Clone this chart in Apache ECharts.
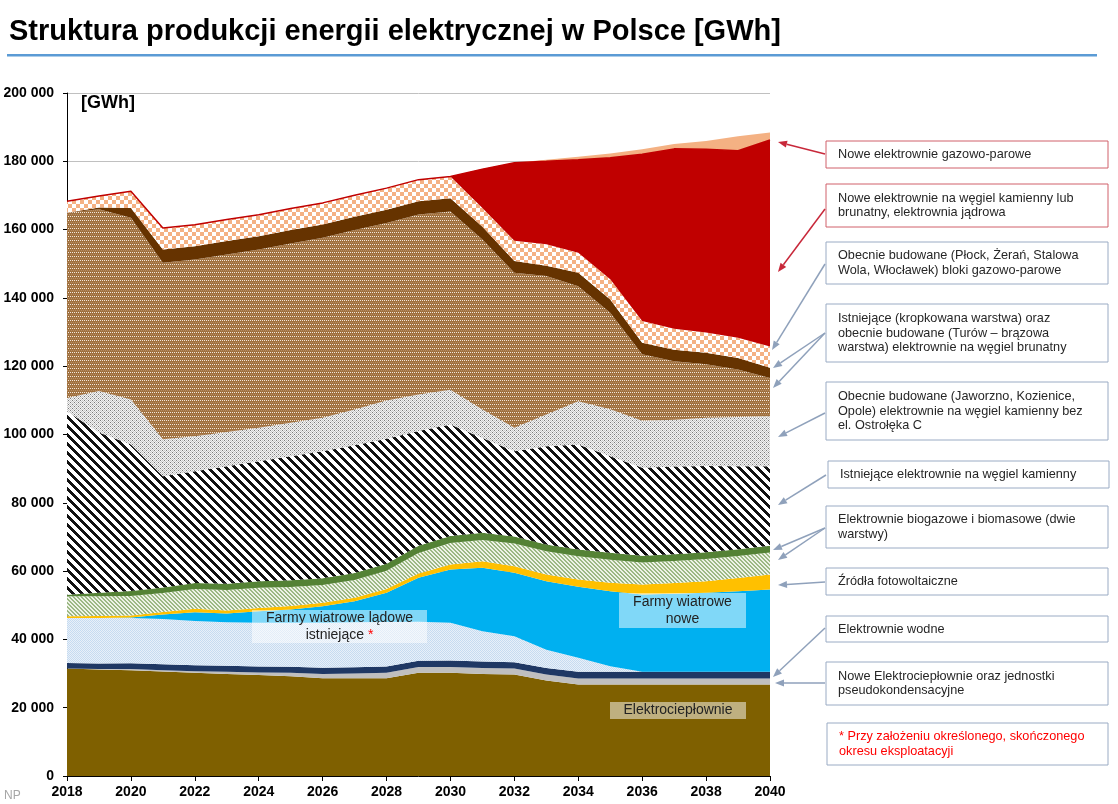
<!DOCTYPE html>
<html>
<head>
<meta charset="utf-8">
<script src="https://cdn.jsdelivr.net/npm/echarts@6/dist/echarts.min.js"></script>
<style>
  html, body { margin: 0; padding: 0; background: #fff; }
  #chart { width: 1118px; height: 804px; }
</style>
</head>
<body>
<div id="chart"></div>
<script>
// lata na osi X
const years = ['2018', '2019', '2020', '2021', '2022', '2023', '2024', '2025', '2026', '2027', '2028',
  '2029', '2030', '2031', '2032', '2033', '2034', '2035', '2036', '2037', '2038', '2039', '2040'];

// warstwy od dołu [GWh]
const elektrocieplownie = [31500, 31200, 31000, 30600, 30200, 29900, 29600, 29200, 28600, 28600, 28600, 30200, 30200, 29900, 29700, 28000, 26800, 26800, 26800, 26800, 26800, 26800, 26800];
const noweEC = [0, 100, 300, 400, 500, 600, 700, 1000, 1300, 1400, 1600, 1700, 1750, 1750, 1750, 1750, 1750, 1750, 1750, 1750, 1750, 1750, 1750];
const wodne = [1600, 1650, 1700, 1700, 1750, 1750, 1800, 1800, 1800, 1850, 1850, 1850, 1850, 1850, 1850, 1900, 1950, 1950, 1950, 1950, 1950, 1950, 1950];
const wiatrIstniejace = [13200, 13350, 13300, 13300, 12950, 12750, 12800, 12900, 13200, 13150, 13050, 11450, 11100, 8900, 7600, 5350, 4100, 1650, 0, 0, 0, 0, 0];
const wiatrNowe = [0, 0, 100, 1300, 2560, 2580, 3360, 3850, 4820, 6200, 8540, 12830, 15560, 18560, 18600, 20040, 20790, 21960, 22640, 22840, 23140, 23610, 24110];
const fotowoltaika = [500, 550, 600, 700, 1000, 900, 950, 1000, 1000, 1000, 1150, 1300, 1450, 1950, 1950, 1950, 2150, 2450, 2950, 3200, 3400, 3900, 4400];
const biomasa1 = [5800, 5800, 5700, 5600, 5800, 6000, 5900, 5600, 5200, 5200, 5300, 6000, 6300, 6200, 6600, 6800, 6800, 6800, 6400, 6400, 6500, 6400, 6400];
const biomasa2 = [500, 1000, 1450, 1600, 1750, 1850, 1950, 2000, 2000, 2050, 2050, 2100, 2100, 2100, 2050, 2000, 2000, 2000, 2000, 2000, 2000, 2000, 2000];
const kamiennyIstn = [53700, 46900, 42900, 32600, 32700, 34400, 35100, 36300, 37200, 37400, 36600, 33600, 32600, 27800, 25000, 28800, 30700, 28300, 25800, 25700, 25200, 24300, 23300];
const kamiennyBud = [3900, 12200, 13200, 10800, 10300, 10000, 9800, 9800, 9800, 10500, 11200, 10700, 10200, 8300, 6900, 9300, 12700, 13700, 13700, 13700, 14200, 14400, 14600];
const brunatnyIstn = [54200, 53200, 53200, 51700, 51700, 52000, 52200, 52500, 52700, 52500, 52000, 52700, 52200, 49800, 45400, 40500, 33700, 28300, 19500, 17100, 15600, 13900, 11200];
const turow = [0, 500, 2900, 3900, 3900, 3900, 3900, 3900, 3900, 3900, 3900, 3900, 3900, 3700, 3400, 3000, 3900, 3900, 3400, 3400, 3400, 3400, 3000];
const gazBudowane = [3400, 3400, 4900, 6300, 6300, 6300, 6300, 6300, 6300, 6300, 6300, 6300, 6350, 5500, 5900, 6300, 5900, 5900, 6350, 6100, 5900, 5900, 6250];
const noweWeglowe = [0, 0, 0, 0, 0, 0, 0, 0, 0, 0, 0, 0, 0, 11400, 22900, 24300, 27200, 35600, 48800, 52700, 53700, 54800, 60500];
const noweGazowe = [0, 0, 0, 0, 0, 0, 0, 0, 0, 0, 0, 0, 0, 0, 0, 500, 900, 1200, 1500, 1400, 2400, 4200, 2200];

const FONT = '"Liberation Sans", Arial, sans-serif';

// wzorki (kafelki) do wypełnień
function pattern(w, h, bg, fn) {
  const c = document.createElement('canvas');
  c.width = w; c.height = h;
  const ctx = c.getContext('2d');
  ctx.fillStyle = bg;
  ctx.fillRect(0, 0, w, h);
  for (let y = 0; y < h; y++) {
    for (let x = 0; x < w; x++) {
      const col = fn(x, y);
      if (col) { ctx.fillStyle = col; ctx.fillRect(x, y, 1, 1); }
    }
  }
  return { image: c, repeat: 'repeat' };
}

const pStripes = pattern(9, 9, '#ffffff', (x, y) => (((x - y) % 9) + 9) % 9 < 4 ? '#111111' : null);
const pGreenHatch = pattern(4, 4, '#eef3e7', (x, y) => (((x - y) % 4) + 4) % 4 < 2 ? '#9cb884' : null);
const pWhiteDots = pattern(4, 4, '#f4f4f4', (x, y) => ((x + y) % 4 === 0 && x % 2 === 0) ? '#7a7a7a' : ((x + y) % 2 === 0 ? '#c8c8c8' : null));
const pBrownDots = pattern(4, 4, '#a0713f', (x, y) => (y === 0 && x % 2 === 0) ? '#f3e8dc' : (y === 2 && x % 2 === 1 ? '#b88e66' : null));
const pChecker = pattern(8, 8, '#ffffff', (x, y) => ((Math.floor(x / 4) + Math.floor(y / 4)) % 2 === 0) ? '#f4b183' : null);
const pBlueDots = pattern(4, 4, '#e8f0f9', (x, y) => ((x + y) % 2 === 0) ? '#c6dbf0' : null);

function area(name, data, fill, extra) {
  return Object.assign({
    name: name,
    type: 'line',
    stack: 'total',
    data: data,
    symbol: 'none',
    silent: true,
    lineStyle: { width: 0 },
    areaStyle: { color: fill, opacity: 1 },
    emphasis: { disabled: true }
  }, extra || {});
}

const series = [
  area('Elektrociepłownie', elektrocieplownie, '#7f6000'),
  area('Nowe Elektrociepłownie', noweEC, '#bfbfbf'),
  area('Elektrownie wodne', wodne, '#1f3864'),
  area('Farmy wiatrowe lądowe istniejące', wiatrIstniejace, pBlueDots),
  area('Farmy wiatrowe nowe', wiatrNowe, '#00b0f0'),
  area('Źródła fotowoltaiczne', fotowoltaika, '#ffc000'),
  area('Biomasa 1', biomasa1, pGreenHatch),
  area('Biomasa 2', biomasa2, '#548235'),
  area('Istniejące węgiel kamienny', kamiennyIstn, pStripes),
  area('Budowane węgiel kamienny', kamiennyBud, pWhiteDots),
  area('Istniejące węgiel brunatny', brunatnyIstn, pBrownDots),
  area('Turów', turow, '#663300'),
  area('Budowane gazowo-parowe', gazBudowane, pChecker),
  area('Nowe węglowe / jądrowa', noweWeglowe, '#c00000', { lineStyle: { width: 1.5, color: '#c00000' } }),
  area('Nowe gazowo-parowe', noweGazowe, '#f4b183')
];

// ramki z opisami po prawej i strzałki
function box(x, y, w, h, lines, border, color) {
  return [
    { type: 'rect', z: 100, shape: { x: x, y: y, width: w, height: h },
      style: { fill: '#fff', stroke: border, lineWidth: 1 } },
    { type: 'text', z: 101,
      style: { x: x + 12, y: y + h / 2, text: lines.join('\n'), font: '12.7px ' + FONT, fill: color,
        textVerticalAlign: 'middle', lineHeight: 14.5 } }
  ];
}
function arrow(x1, y1, x2, y2, color) {
  const a = Math.atan2(y2 - y1, x2 - x1), L = 9, hw = 3.5;
  const bx = x2 - L * Math.cos(a), by = y2 - L * Math.sin(a);
  const px = -Math.sin(a) * hw, py = Math.cos(a) * hw;
  return [
    { type: 'line', z: 100, shape: { x1: x1, y1: y1, x2: bx, y2: by }, style: { stroke: color, lineWidth: 1.5 } },
    { type: 'polygon', z: 100, shape: { points: [[x2, y2], [bx + px, by + py], [bx - px, by - py]] }, style: { fill: color } }
  ];
}
function label(x, y, w, h, text, rich) {
  return [
    { type: 'rect', z: 90, shape: { x: x, y: y, width: w, height: h }, style: { fill: 'rgba(255,255,255,0.5)' } },
    { type: 'text', z: 91,
      style: { x: x + w / 2, y: y + h / 2, text: text, font: '14px ' + FONT, fill: '#222',
        textAlign: 'center', textVerticalAlign: 'middle', lineHeight: 17, rich: rich } }
  ];
}

const RED = '#d0606a', REDA = '#c8283a', GREY = '#9aabc4', GREYA = '#8fa1bb', TXT = '#262626';

const graphic = [].concat(
  [{ type: 'text', z: 100, style: { x: 9, y: 32, text: 'Struktura produkcji energii elektrycznej w Polsce [GWh]',
      font: 'bold 29px ' + FONT, fill: '#000', textVerticalAlign: 'middle' } },
   { type: 'rect', z: 100, shape: { x: 7, y: 54, width: 1090, height: 2.5 }, style: { fill: '#5b9bd5' } },
   { type: 'text', z: 100, style: { x: 81, y: 103, text: '[GWh]', font: 'bold 18px ' + FONT, fill: '#000', textVerticalAlign: 'middle' } },
   { type: 'text', z: 100, style: { x: 4, y: 796, text: 'NP', font: '12px ' + FONT, fill: '#a6a6a6', textVerticalAlign: 'middle' } }],
  label(252, 610, 175, 33, '{t|Farmy wiatrowe lądowe}\n{t|istniejące }{r|*}', { t: { fill: '#222', font: '14px ' + FONT }, r: { fill: '#ff0000', font: '14px ' + FONT } }),
  label(619, 593, 127, 35, 'Farmy wiatrowe\nnowe'),
  label(610, 702, 136, 17, 'Elektrociepłownie'),
  box(826, 141, 282, 27, ['Nowe elektrownie gazowo-parowe'], RED, TXT),
  box(826, 184, 282, 43, ['Nowe elektrownie na węgiel kamienny lub', 'brunatny, elektrownia jądrowa'], RED, TXT),
  box(826, 242, 282, 42, ['Obecnie budowane (Płock, Żerań, Stalowa', 'Wola, Włocławek) bloki gazowo-parowe'], GREY, TXT),
  box(826, 304, 282, 58, ['Istniejące (kropkowana warstwa) oraz', 'obecnie budowane (Turów – brązowa', 'warstwa) elektrownie na węgiel brunatny'], GREY, TXT),
  box(826, 382, 282, 58, ['Obecnie budowane (Jaworzno, Kozienice,', 'Opole) elektrownie na węgiel kamienny bez', 'el. Ostrołęka C'], GREY, TXT),
  box(828, 461, 281, 27, ['Istniejące elektrownie na węgiel kamienny'], GREY, TXT),
  box(826, 506, 282, 42, ['Elektrownie biogazowe i biomasowe (dwie', 'warstwy)'], GREY, TXT),
  box(826, 568, 282, 27, ['Źródła fotowoltaiczne'], GREY, TXT),
  box(826, 616, 282, 26, ['Elektrownie wodne'], GREY, TXT),
  box(826, 662, 282, 43, ['Nowe Elektrociepłownie oraz jednostki', 'pseudokondensacyjne'], GREY, TXT),
  box(827, 723, 281, 42, ['* Przy założeniu określonego, skończonego', 'okresu eksploatacyji'], GREY, '#ff0000'),
  arrow(825, 154, 778, 142, REDA),
  arrow(825, 209, 778, 272, REDA),
  arrow(825, 264, 772, 350, GREYA),
  arrow(825, 333, 773, 368, GREYA),
  arrow(825, 333, 773, 388, GREYA),
  arrow(825, 413, 778, 437, GREYA),
  arrow(826, 475, 778, 505, GREYA),
  arrow(825, 528, 773, 550, GREYA),
  arrow(825, 528, 778, 560, GREYA),
  arrow(825, 582, 778, 585, GREYA),
  arrow(825, 628, 773, 677, GREYA),
  arrow(825, 683, 775, 683, GREYA)
);

const myChart = echarts.init(document.getElementById('chart'), null, { renderer: 'canvas' });
const option = {
  animation: false,
  backgroundColor: '#ffffff',
  grid: { left: 67, right: 348, top: 93, bottom: 28, containLabel: false },
  xAxis: {
    type: 'category',
    data: years,
    boundaryGap: false,
    axisLine: { lineStyle: { color: '#000', width: 1 } },
    axisTick: { interval: 1, length: 5, lineStyle: { color: '#000' } },
    axisLabel: { interval: 1, margin: 9, color: '#000', fontWeight: 'bold', fontSize: 14, fontFamily: FONT },
    splitLine: { show: false }
  },
  yAxis: {
    type: 'value',
    min: 0,
    max: 200000,
    interval: 20000,
    axisLine: { show: true, lineStyle: { color: '#000', width: 1 } },
    axisTick: { show: true, length: 4, lineStyle: { color: '#000' } },
    axisLabel: {
      margin: 13, color: '#000', fontWeight: 'bold', fontSize: 14, fontFamily: FONT,
      formatter: (v) => v === 0 ? '0' : String(v).replace(/\B(?=(\d{3})+(?!\d))/g, ' ')
    },
    splitLine: { show: true, lineStyle: { color: '#c0c0c0', width: 1 } }
  },
  series: series,
  graphic: graphic
};
myChart.setOption(option, true);
</script>
</body>
</html>
